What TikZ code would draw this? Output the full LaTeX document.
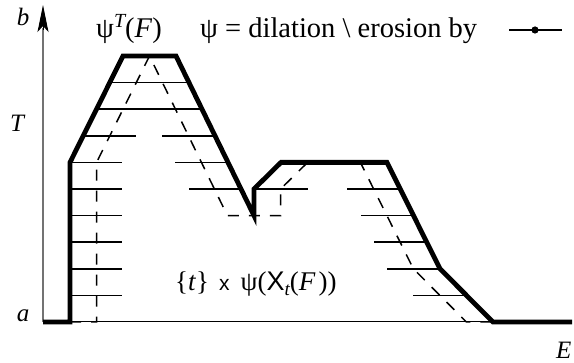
\documentclass[tikz,border=0pt]{standalone}
\usepackage{fontspec}
\setmainfont{Liberation Serif}
\setsansfont{Liberation Sans}
\usetikzlibrary{arrows.meta}
\begin{document}
\begin{tikzpicture}[x=1pt,y=-1pt,
  fthick/.style={line width=4.8pt, line join=miter, line cap=butt},
  hatch/.style={line width=1.5pt},
  erod/.style={line width=1.5pt, dash pattern=on 11pt off 10pt},
  axisline/.style={line width=1.3pt, black!55},
  baseline/.style={line width=1pt},
  lbl/.style={font=\fontsize{25}{28}\selectfont\itshape, inner sep=0pt},
  txt/.style={font=\fontsize{28.5}{32}\selectfont, inner sep=0pt}]
\useasboundingbox (0,0) rectangle (574,363);

% levels
\def\yA{322}\def\yB{295.4}\def\yC{268.8}\def\yD{242.2}\def\yE{215.6}
\def\yF{189}\def\yG{162.4}\def\yH{135.8}\def\yI{109.2}\def\yJ{82.6}\def\yK{56}

% hatch lines: psi(X_t(F))
\foreach \yy/\xa/\xb in {\yB/70/122, \yB/413/466,
  \yC/70/122, \yC/387/440,
  \yD/70/122, \yD/374/427,
  \yE/70/122, \yE/361/414,
  \yF/70/122, \yF/189/241, \yF/254/308, \yF/347/400,
  \yG/70/122, \yG/175/228,
  \yH/83/136, \yH/162/215,
  \yI/96/202,
  \yJ/109/189}
  \draw[hatch] (\xa,\yy) -- (\xb,\yy);

% eroded function (dashed)
\coordinate (e0) at (70,\yA);
\coordinate (e1) at (96.6,\yA);
\coordinate (e2) at (96.6,\yG);
\coordinate (e3) at (149.5,\yK);
\coordinate (e4) at (227.4,\yE);
\coordinate (e5) at (280.6,\yE);
\coordinate (e6) at (280.6,\yF);
\coordinate (e7) at (307.6,\yG);
\coordinate (e8) at (360.4,\yG);
\coordinate (e9) at (413.4,\yC);
\coordinate (e10) at (466.4,\yA);
\coordinate (e11) at (493,\yA);
\draw[erod] (e0) -- (e1) -- (e2) -- (e3) -- (e4) -- (e5) -- (e6) -- (e7) -- (e8) -- (e9) -- (e10) -- (e11);

% axes
\coordinate (o) at (43,\yA);
\coordinate (xend) at (572,\yA);
\coordinate (ytop) at (43,5);
\coordinate (yshaft) at (43,28);
\draw[baseline] (o) -- (xend);
\draw[axisline] (o) -- (yshaft);
\draw[line width=1pt, -{Stealth[length=27pt,width=11pt,inset=6pt]}] (43,30) -- (ytop);

% function F (thick)
\coordinate (f0) at (43,\yA);
\coordinate (f1) at (70,\yA);
\coordinate (f2) at (70,\yG);
\coordinate (f3) at (123,\yK);
\coordinate (f4) at (176,\yK);
\coordinate (f5) at (254,\yE);
\coordinate (f6) at (254,\yF);
\coordinate (f7) at (281,\yG);
\coordinate (f8) at (387,\yG);
\coordinate (f9) at (440,\yC);
\coordinate (f10) at (493,\yA);
\coordinate (f11) at (572,\yA);
\draw[fthick] (f0) -- (f1) -- (f2) -- (f3) -- (f4) -- (f5) -- (f6) -- (f7) -- (f8) -- (f9) -- (f10) -- (f11);

% axis labels
\node[lbl, anchor=base] (lb) at (23,26) {b};
\node[lbl, anchor=base] (lT) at (17,132) {T};
\node[lbl, anchor=base] (la) at (23,322) {a};
\node[lbl, anchor=base west] (lE) at (556,359) {E};

% titles
\node[txt, anchor=base west] (psiT) at (96,38)
  {ψ\raisebox{10pt}{\fontsize{20}{22}\selectfont\itshape T}(\textit{F})};
\node[txt, anchor=base west] (def) at (200,38) {ψ = dilation \textbackslash{} erosion by};

% structuring element
\coordinate (sL) at (509,30);
\coordinate (sR) at (562,30);
\draw[line width=1.8pt] (sL) -- (sR);
\fill (535,30) circle (3.6pt);

% bottom label
\node[txt, anchor=base west, font=\fontsize{27}{30}\selectfont] (setlbl) at (175,291)
  {\{\textit{t}\}\hspace{10pt}{\sffamily\fontsize{21}{22}\selectfont x}\hspace{11pt}ψ({\sffamily X}\raisebox{-5pt}{\fontsize{19}{20}\selectfont\itshape t}(\textit{F}\hspace{3pt}))};
\end{tikzpicture}
\end{document}
